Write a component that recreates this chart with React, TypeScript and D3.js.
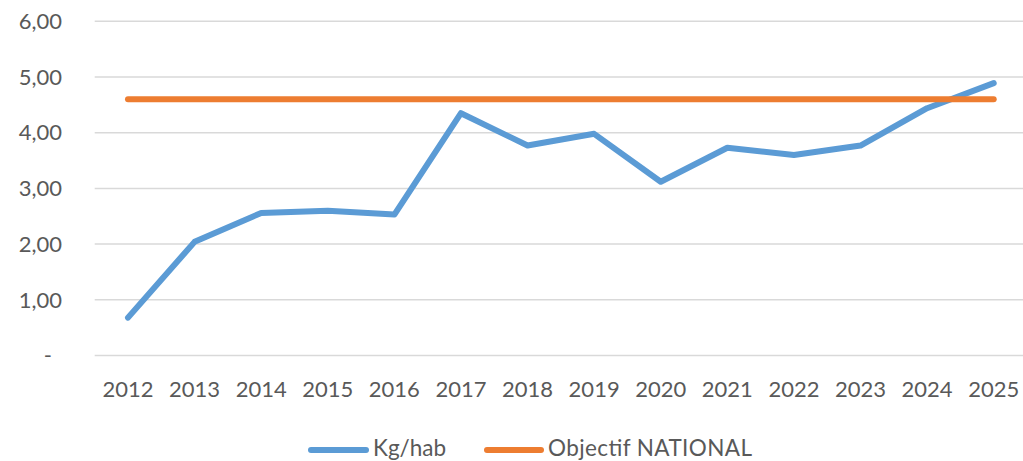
import React from "react";
import * as d3 from "d3";

const years = ["2012","2013","2014","2015","2016","2017","2018","2019","2020","2021","2022","2023","2024","2025"];
const kgHab = [0.68, 2.04, 2.56, 2.60, 2.53, 4.35, 3.77, 3.98, 3.12, 3.73, 3.60, 3.77, 4.44, 4.89];
const objectif = [4.6, 4.6, 4.6, 4.6, 4.6, 4.6, 4.6, 4.6, 4.6, 4.6, 4.6, 4.6, 4.6, 4.6];
const yTicks = [0, 1, 2, 3, 4, 5, 6];
const seriesNames = ["Kg/hab", "Objectif NATIONAL"];

const W = 1023, H = 461;
const left = 94.7, right = 1027, top = 21.3, bottom = 355.5;
const BLUE = "#5B9BD5", ORANGE = "#ED7D31", TXT = "#595959";
const FONT = "Lato, 'Open Sans', sans-serif";

export default function App() {
  const x = d3.scalePoint<string>().domain(years).range([left, right]).padding(0.5);
  const y = d3.scaleLinear().domain([0, 6]).range([bottom, top]);
  const line = d3.line<number>().x((_, i) => x(years[i])!).y(d => y(d));
  const fmt = (v: number) => (v === 0 ? "-" : v.toFixed(2).replace(".", ","));
  return (
    <svg width={W} height={H} style={{ position: "absolute", left: 0, top: 0, background: "#fff" }}>
      {yTicks.map(t => (
        <g key={t}>
          <line x1={left} x2={W} y1={y(t)} y2={y(t)} stroke="#D9D9D9" strokeWidth={1.5} />
          <text x={t === 0 ? 52 : 62} y={y(t)} dy="0.35em" textAnchor="end" fontFamily={FONT} fontSize={22} fill={TXT}>{fmt(t)}</text>
        </g>
      ))}
      {years.map(yr => (
        <text key={yr} x={x(yr)} y={397} textAnchor="middle" fontFamily={FONT} fontSize={22} fill={TXT}>{yr}</text>
      ))}
      <path d={line(kgHab)!} fill="none" stroke={BLUE} strokeWidth={6} strokeLinecap="round" strokeLinejoin="round" />
      <path d={line(objectif)!} fill="none" stroke={ORANGE} strokeWidth={6} strokeLinecap="round" strokeLinejoin="round" />
      <g>
        <line x1={311} x2={366} y1={450} y2={450} stroke={BLUE} strokeWidth={6} strokeLinecap="round" />
        <text x={373} y={456} fontFamily={FONT} fontSize={22.5} fill={TXT}>{seriesNames[0]}</text>
        <line x1={487} x2={541} y1={450} y2={450} stroke={ORANGE} strokeWidth={6} strokeLinecap="round" />
        <text x={548} y={456} fontFamily={FONT} fontSize={22.5} fill={TXT} textLength={204} lengthAdjust="spacing">{seriesNames[1]}</text>
      </g>
    </svg>
  );
}
